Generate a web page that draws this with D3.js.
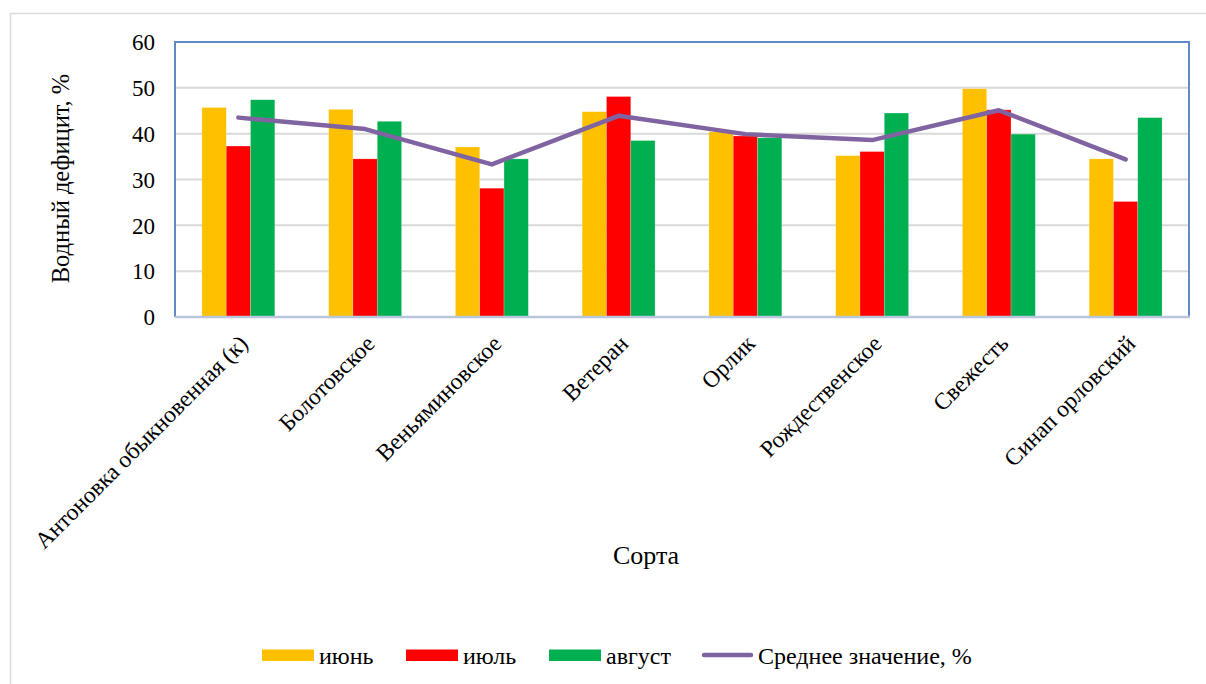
<!DOCTYPE html>
<html>
<head>
<meta charset="utf-8">
<script src="https://cdn.jsdelivr.net/npm/d3@7/dist/d3.min.js"></script>
<style>
  html, body { margin: 0; padding: 0; background: #fff; }
  svg text { font-family: "Times New Roman", Times, "Liberation Serif", Tinos, "Noto Serif", "DejaVu Serif", serif; }
</style>
</head>
<body>
<svg id="chart" width="1206" height="684"></svg>
<script>
// Сорта яблони и водный дефицит листьев по месяцам, %
const varieties = [
  "Антоновка обыкновенная (к)", "Болотовское", "Веньяминовское", "Ветеран",
  "Орлик", "Рождественское", "Свежесть", "Синап орловский"
];
const june   = [45.7, 45.3, 37.1, 44.8, 40.4, 35.2, 49.8, 34.5];
const july   = [37.3, 34.5, 28.1, 48.1, 39.5, 36.1, 45.2, 25.2];
const august = [47.4, 42.7, 34.5, 38.5, 39.1, 44.5, 39.9, 43.5];
const average = [43.5, 41.0, 33.3, 43.9, 39.9, 38.6, 45.1, 34.4];

const seriesNames  = ["июнь", "июль", "август"];
const seriesColors = ["#ffc000", "#ff0000", "#00b050"];
const lineName  = "Среднее значение, %";
const lineColor = "#8064a2";
const yTicks = [0, 10, 20, 30, 40, 50, 60];
const yTitle = "Водный дефицит, %";
const xTitle = "Сорта";

const svg = d3.select("#chart");
const W = 1206, H = 684;
const plot = { left: 175, right: 1189, top: 42, bottom: 317 };

// outer chart frame
svg.append("path")
  .attr("d", `M10.5,${H} V13.5 H${W}`)
  .attr("fill", "none").attr("stroke", "#d9d9d9").attr("stroke-width", 1.5);

const x0 = d3.scaleBand().domain(varieties).range([plot.left, plot.right]).padding(0);
const barW = 24.3;
const x1 = d3.scaleBand().domain(seriesNames)
  .range([-barW * 1.5, barW * 1.5]).padding(0);
const y = d3.scaleLinear().domain([0, 60]).range([plot.bottom, plot.top]);

// horizontal gridlines
svg.append("g")
  .selectAll("line").data(yTicks.filter(t => t > 0 && t < 60)).join("line")
  .attr("x1", plot.left).attr("x2", plot.right)
  .attr("y1", d => y(d)).attr("y2", d => y(d))
  .attr("stroke", "#d9d9d9").attr("stroke-width", 2);

// bars
const table = varieties.map((v, i) => ({ v, vals: [june[i], july[i], august[i]] }));
const groups = svg.append("g").selectAll("g").data(table).join("g")
  .attr("transform", d => `translate(${x0(d.v) + x0.bandwidth() / 2},0)`);
groups.selectAll("rect")
  .data(d => d.vals.map((val, k) => ({ val, k })))
  .join("rect")
  .attr("x", d => x1(seriesNames[d.k]))
  .attr("width", x1.bandwidth())
  .attr("y", d => y(d.val))
  .attr("height", d => y(0) - y(d.val))
  .attr("fill", d => seriesColors[d.k])
  .attr("stroke", "rgba(255,255,255,0.35)").attr("stroke-width", 0.6);

// plot area frame
svg.append("path")
  .attr("d", `M${plot.left},${plot.bottom} V${plot.top} H${plot.right} V${plot.bottom}`)
  .attr("fill", "none").attr("stroke", "#5f8ac7").attr("stroke-width", 2);
svg.append("line")
  .attr("x1", plot.left).attr("x2", plot.right + 1)
  .attr("y1", plot.bottom).attr("y2", plot.bottom)
  .attr("stroke", "#b8c6dc").attr("stroke-width", 2.5);

// average line
const line = d3.line()
  .x((d, i) => x0(varieties[i]) + x0.bandwidth() / 2)
  .y(d => y(d));
svg.append("path")
  .datum(average)
  .attr("d", line)
  .attr("fill", "none").attr("stroke", lineColor).attr("stroke-width", 4.5)
  .attr("stroke-linejoin", "round").attr("stroke-linecap", "round");

// y axis tick labels
const yAxis = d3.axisLeft(y).tickValues(yTicks).tickSize(0).tickPadding(0);
const gy = svg.append("g").attr("transform", `translate(${plot.left - 20},0)`).call(yAxis);
gy.select(".domain").remove();
gy.selectAll("text")
  .attr("font-size", 23)
  .attr("fill", "#000").attr("dy", "0.34em");

// category labels
const xAxis = d3.axisBottom(x0).tickSize(0).tickPadding(0);
const gx = svg.append("g").attr("transform", `translate(0,${plot.bottom})`).call(xAxis);
gx.select(".domain").remove();
gx.selectAll("text")
  .attr("font-size", 23.5)
  .attr("fill", "#000")
  .attr("text-anchor", "end")
  .attr("dy", 0).attr("y", 0)
  .attr("transform", "translate(11,28) rotate(-45)");

// axis titles
svg.append("text")
  .attr("transform", `translate(69,${(plot.top + plot.bottom) / 2 - 1}) rotate(-90)`)
  .attr("text-anchor", "middle")
  .attr("font-size", 24.5)
  .text(yTitle);
svg.append("text")
  .attr("x", 646).attr("y", 564)
  .attr("text-anchor", "middle")
  .attr("font-size", 26)
  .text(xTitle);

// legend
const legend = svg.append("g").attr("font-size", 24);
const legendX = [262, 406, 549];
seriesNames.forEach((name, k) => {
  legend.append("rect")
    .attr("x", legendX[k]).attr("y", 649.5)
    .attr("width", 52).attr("height", 11.5)
    .attr("fill", seriesColors[k]);
  legend.append("text")
    .attr("x", legendX[k] + 57).attr("y", 664)
    .text(name);
});
legend.append("line")
  .attr("x1", 704).attr("x2", 751)
  .attr("y1", 655).attr("y2", 655)
  .attr("stroke", lineColor).attr("stroke-width", 4.5)
  .attr("stroke-linecap", "round");
legend.append("text")
  .attr("x", 758).attr("y", 664)
  .text(lineName);
</script>
</body>
</html>
